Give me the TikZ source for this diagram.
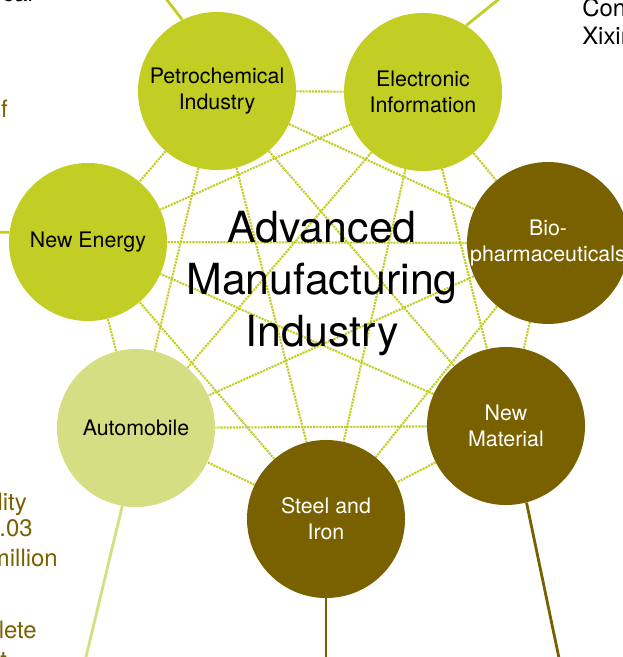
\documentclass[tikz,border=0pt]{standalone}
\usepackage{fontspec}
\setmainfont{TeX Gyre Heros}
\usepackage{xcolor}
\usetikzlibrary{backgrounds}

\definecolor{lime}{RGB}{194,206,36}
\definecolor{palelime}{RGB}{214,222,132}
\definecolor{darkgold}{RGB}{122,97,0}

\begin{document}
\begin{tikzpicture}[x=0.025cm, y=-0.025cm,
    industry/.style={circle, minimum size=3.95cm, inner sep=0pt, align=center,
      font=\fontsize{15.2}{18.6}\selectfont},
    link/.style={lime, line width=1.5pt, dash pattern=on 1.5pt off 0.7pt},
    spoke/.style={line width=2pt},
    note/.style={inner sep=0pt, font=\fontsize{17}{20}\selectfont}]
    \useasboundingbox (0,0) rectangle (623,657);
    \clip (0,0) rectangle (623,657);

    % Industries
    \node (petro) [industry, fill=lime] at (217,91) {Petrochemical\\ Industry};
    \node (elec) [industry, fill=lime] at (423,92) {Electronic\\ Information};
    \node (bio) [industry, fill=darkgold, text=white] at (548,243)
    {Bio-\\ pharmaceuticals};
    \node (newmat) [industry, fill=darkgold, text=white] at (506,426)
    {New\\ Material};
    \node (steel) [industry, fill=darkgold, text=white] at (326,519)
    {Steel and\\ Iron};
    \node (auto) [industry, fill=palelime] at (136,428) {Automobile};
    \node (newenergy) [industry, fill=lime] at (88,242) {New Energy};

    % Title
    \node (title) [align=center, font=\fontsize{30.5}{37}\selectfont] at (322,284)
    {Advanced\\ Manufacturing\\ Industry};

    % Links
    \begin{scope}[on background layer]
      \foreach \a/\b in {petro/elec, petro/bio, petro/newmat, petro/steel,
          petro/auto, petro/newenergy, elec/bio, elec/newmat, elec/steel,
          elec/auto, elec/newenergy, bio/newmat, bio/steel, bio/auto,
          bio/newenergy, newmat/steel, newmat/auto, newmat/newenergy,
          steel/auto, steel/newenergy, auto/newenergy}
        \draw [link] (\a) -- (\b);
    \end{scope}

    % Spokes to the outer notes
    \coordinate (petroend) at (150,-22);
    \coordinate (elecend) at (520,-18);
    \coordinate (newenergyend) at (-20,232);
    \coordinate (autoend) at (80,682);
    \coordinate (steelend) at (326,682);
    \coordinate (newmatend) at (564,682);
    \draw [spoke, lime] (petro.116) -- (petroend);
    \draw [spoke, lime] (elec.57) -- (elecend);
    \draw [spoke, lime] (newenergy.173) -- (newenergyend);
    \draw [spoke, palelime] (auto.260) -- (autoend);
    \draw [spoke, darkgold] (steel.south) -- (steelend);
    \draw [spoke, darkgold] (newmat.-75) -- (newmatend);

    % Outer notes (cut by the frame)
    \node (notecal) [note, anchor=base west] at (2,1.5) {cal};
    \node (notef) [note, anchor=base east, text=darkgold] at (8,117) {f};
    \node (notelity) [note, anchor=base east, text=darkgold] at (27,510) {lity};
    \node (note03) [note, anchor=base east, text=darkgold] at (33,536) {.03};
    \node (notemillion) [note, anchor=base east, text=darkgold] at (58,566)
    {million};
    \node (notelete) [note, anchor=base east, text=darkgold] at (37,638) {lete};
    \node (notet) [note, anchor=base west, text=darkgold] at (0,668) {t};
    \node (notecon) [note, anchor=base west] at (582,17) {Con};
    \node (notexixin) [note, anchor=base west] at (582,45) {Xixin};
  \end{tikzpicture}
\end{document}
